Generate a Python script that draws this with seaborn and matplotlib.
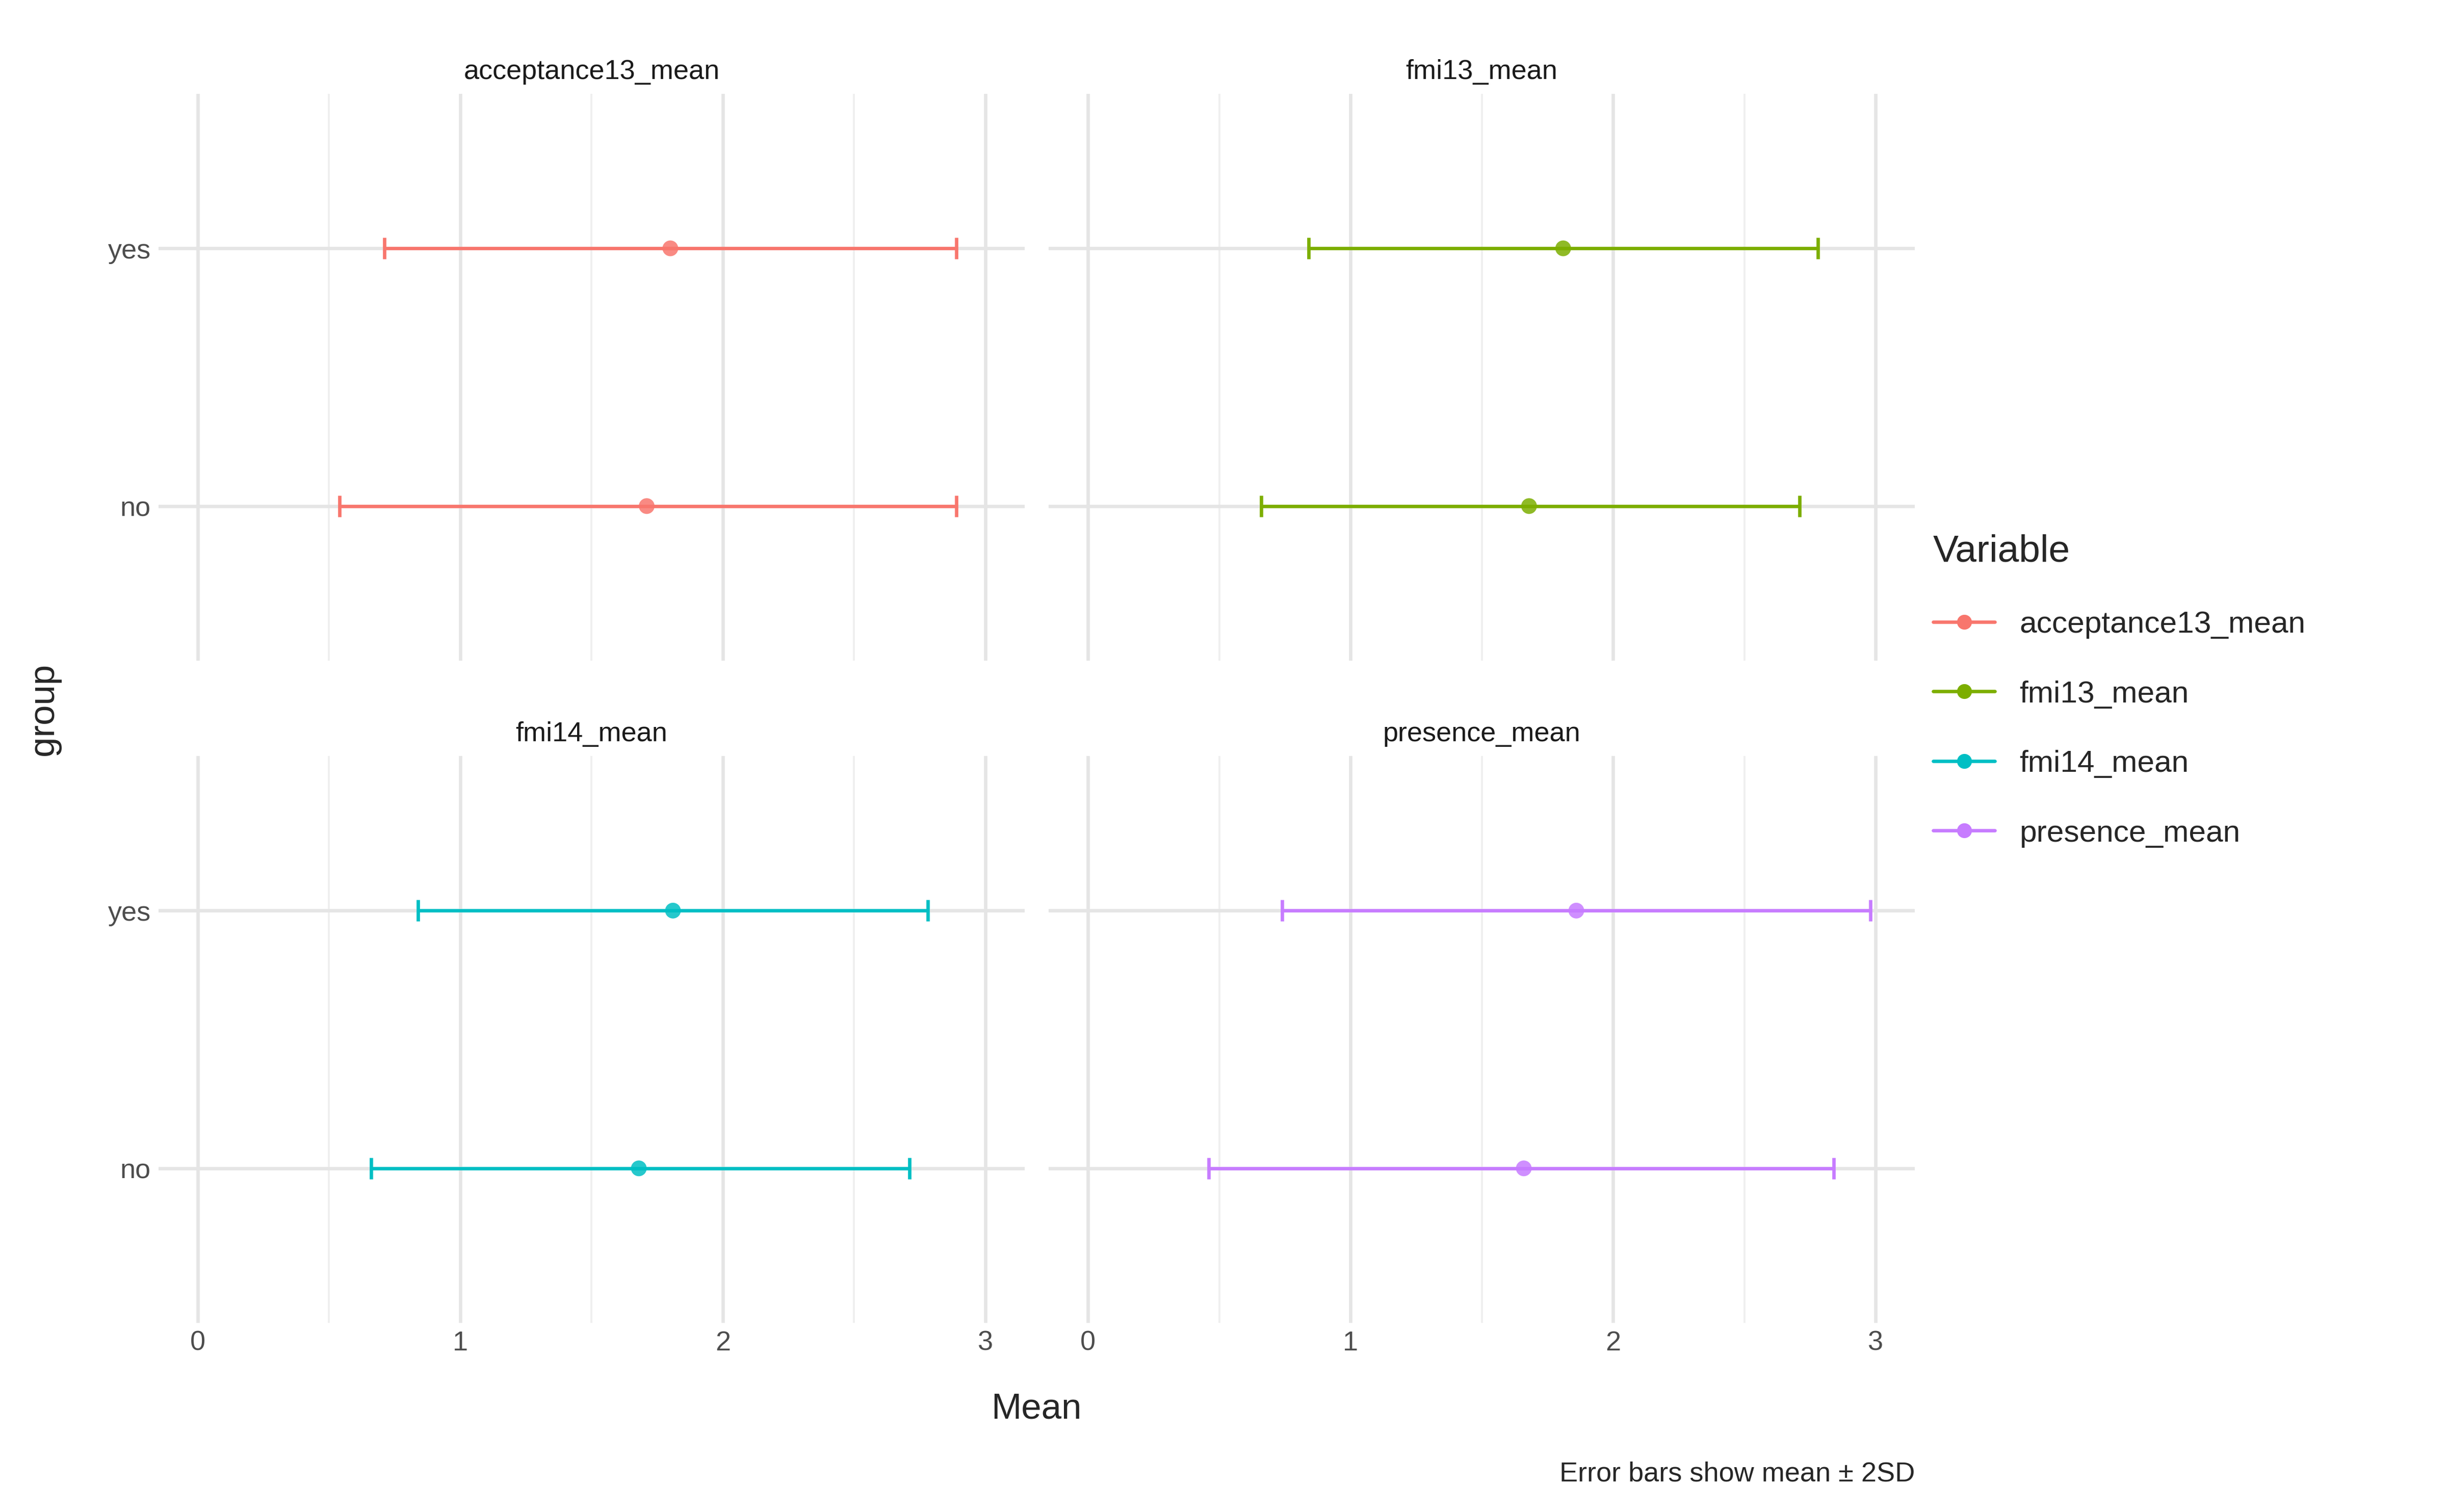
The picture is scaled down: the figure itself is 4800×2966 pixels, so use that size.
import numpy as np
import pandas as pd
import seaborn as sns
import matplotlib.pyplot as plt
from matplotlib.lines import Line2D

# values
variables = ['acceptance13_mean', 'fmi13_mean', 'fmi14_mean', 'presence_mean']
groups = ['no', 'yes']
means = {'acceptance13_mean': [1.71, 1.80], 'fmi13_mean': [1.68, 1.81],
         'fmi14_mean': [1.68, 1.81], 'presence_mean': [1.66, 1.86]}
lows = {'acceptance13_mean': [0.54, 0.71], 'fmi13_mean': [0.66, 0.84],
        'fmi14_mean': [0.66, 0.84], 'presence_mean': [0.46, 0.74]}
highs = {'acceptance13_mean': [2.89, 2.89], 'fmi13_mean': [2.71, 2.78],
         'fmi14_mean': [2.71, 2.78], 'presence_mean': [2.84, 2.98]}
colors = ['#F8766D', '#7CAE00', '#00BFC4', '#C77CFF']

rows = []
for v in variables:
    for i, g in enumerate(groups):
        rows.append({'Variable': v, 'group': g, 'mean': means[v][i],
                     'low': lows[v][i], 'high': highs[v][i]})
df = pd.DataFrame(rows)
df['y'] = df['group'].map({'no': 1, 'yes': 2})

sns.set_style('white')
plt.rcParams['font.family'] = ['Liberation Sans', 'DejaVu Sans']
fig = plt.figure(figsize=(16, 9.887), dpi=300)

pos = [(0.0647, 0.563), (0.4285, 0.563), (0.0647, 0.125), (0.4285, 0.125)]
w, h = 0.3541, 0.375
for k, (v, c) in enumerate(zip(variables, colors)):
    ax = fig.add_axes([pos[k][0], pos[k][1], w, h])
    d = df[df['Variable'] == v]
    for x in [0, 1, 2, 3]:
        ax.axvline(x, color='#E5E5E5', lw=1.6, zorder=0)
    for x in [0.5, 1.5, 2.5]:
        ax.axvline(x, color='#EFEFEF', lw=0.9, zorder=0)
    for y in [1, 2]:
        ax.axhline(y, color='#E5E5E5', lw=1.6, zorder=0)
    ax.errorbar(d['mean'], d['y'], xerr=[d['mean'] - d['low'], d['high'] - d['mean']],
                fmt='none', ecolor=c, elinewidth=1.6, capsize=5, capthick=1.6, zorder=2)
    sns.scatterplot(data=d, x='mean', y='y', color=c, s=55, alpha=0.85,
                    edgecolor='none', ax=ax, zorder=3)
    ax.set_xlim(-0.15, 3.15)
    ax.set_ylim(0.4, 2.6)
    ax.set_xlabel('')
    ax.set_ylabel('')
    ax.set_title(v, fontsize=13, color='#1A1A1A', pad=7)
    for s in ax.spines.values():
        s.set_visible(False)
    ax.tick_params(length=0, labelsize=13, labelcolor='#4D4D4D')
    if k % 2 == 0:
        ax.set_yticks([1, 2])
        ax.set_yticklabels(groups)
    else:
        ax.set_yticks([])
    if k >= 2:
        ax.set_xticks([0, 1, 2, 3])
    else:
        ax.set_xticks([])

fig.text(0.4235, 0.068, 'Mean', ha='center', va='center', fontsize=17)
fig.text(0.018, 0.531, 'group', ha='center', va='center', rotation=90, fontsize=17)
fig.text(0.7825, 0.025, 'Error bars show mean ± 2SD', ha='right', va='center', fontsize=13)

handles = [Line2D([0], [0], color=c, lw=1.6, marker='o', markersize=6) for c in colors]
leg = fig.legend(handles, variables, loc='upper left', bbox_to_anchor=(0.785, 0.655),
                 frameon=False, title='Variable', fontsize=14.5, title_fontsize=18,
                 handlelength=2, labelspacing=1.35, borderaxespad=0)
leg._legend_box.align = 'left'

fig.savefig('out.png', dpi=300)
